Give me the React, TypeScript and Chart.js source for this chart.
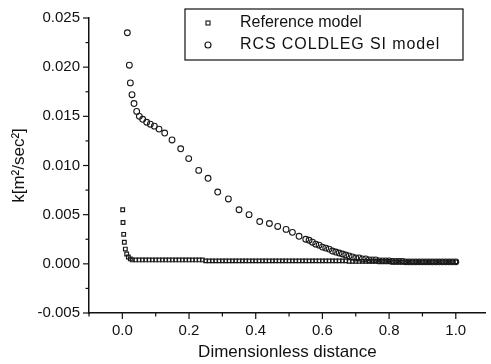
import React, { useEffect, useRef } from "react";
import { Chart, registerables } from "chart.js";
Chart.register(...registerables);

const seriesNames = ["Reference model", "RCS COLDLEG SI model"];

const refX = [
  0.001, 0.002, 0.004, 0.006, 0.009, 0.013, 0.018, 0.024,
  0.03, 0.04, 0.05, 0.06, 0.07, 0.08, 0.09, 0.10, 0.11, 0.12, 0.13, 0.14, 0.15, 0.16, 0.17, 0.18, 0.19, 0.20,
  0.21, 0.22, 0.23, 0.24, 0.25, 0.26, 0.27, 0.28, 0.29, 0.30, 0.31, 0.32, 0.33, 0.34, 0.35, 0.36, 0.37, 0.38, 0.39, 0.40,
  0.41, 0.42, 0.43, 0.44, 0.45, 0.46, 0.47, 0.48, 0.49, 0.50, 0.51, 0.52, 0.53, 0.54, 0.55, 0.56, 0.57, 0.58, 0.59, 0.60,
  0.61, 0.62, 0.63, 0.64, 0.65, 0.66, 0.67, 0.68, 0.69, 0.70, 0.71, 0.72, 0.73, 0.74, 0.75, 0.76, 0.77, 0.78, 0.79, 0.80,
  0.81, 0.82, 0.83, 0.84, 0.85, 0.86, 0.87, 0.88, 0.89, 0.90, 0.91, 0.92, 0.93, 0.94, 0.95, 0.96, 0.97, 0.98, 0.99, 1.00,
];
const refY = [
  0.0055, 0.0042, 0.0030, 0.0022, 0.0015, 0.0010, 0.0007, 0.0005,
  0.0004, 0.0004, 0.0004, 0.0004, 0.0004, 0.0004, 0.0004, 0.0004, 0.0004, 0.0004, 0.0004, 0.0004, 0.0004, 0.0004, 0.0004, 0.0004, 0.0004, 0.0004,
  0.0004, 0.0004, 0.0004, 0.0004, 0.0003, 0.0003, 0.0003, 0.0003, 0.0003, 0.0003, 0.0003, 0.0003, 0.0003, 0.0003, 0.0003, 0.0003, 0.0003, 0.0003, 0.0003, 0.0003,
  0.0003, 0.0003, 0.0003, 0.0003, 0.0003, 0.0003, 0.0003, 0.0003, 0.0003, 0.0003, 0.0003, 0.0003, 0.0003, 0.0003, 0.0003, 0.0003, 0.0003, 0.0003, 0.0003, 0.0003,
  0.0003, 0.0003, 0.0003, 0.0003, 0.0003, 0.0003, 0.0003, 0.00025, 0.00025, 0.00025, 0.00025, 0.00025, 0.00025, 0.00025, 0.00025, 0.00025, 0.00025, 0.00025, 0.00025, 0.00025,
  0.0002, 0.0002, 0.0002, 0.0002, 0.0002, 0.0002, 0.0002, 0.0002, 0.0002, 0.0002, 0.0002, 0.0002, 0.0002, 0.0002, 0.0002, 0.0002, 0.0002, 0.0002, 0.0002, 0.0002,
];

const rcsX = [
  0.015, 0.021, 0.024, 0.029, 0.035, 0.043, 0.051, 0.061, 0.073, 0.084, 0.096, 0.110, 0.127, 0.149, 0.175, 0.199,
  0.229, 0.257, 0.286, 0.318, 0.350, 0.380, 0.412, 0.441, 0.466, 0.491, 0.510, 0.530, 0.550,
  0.56, 0.57, 0.58, 0.59, 0.60, 0.61, 0.62, 0.63, 0.64, 0.65, 0.66, 0.67, 0.68, 0.69, 0.70,
  0.71, 0.72, 0.73, 0.74, 0.75, 0.76, 0.77, 0.78, 0.79, 0.80, 0.81, 0.82, 0.83, 0.84, 0.85,
  0.86, 0.87, 0.88, 0.89, 0.90, 0.91, 0.92, 0.93, 0.94, 0.95, 0.96, 0.97, 0.98, 0.99, 1.00,
];
const rcsY = [
  0.0235, 0.0202, 0.0184, 0.0172, 0.0163, 0.0155, 0.0150, 0.0147, 0.0144, 0.0142, 0.0140, 0.0137, 0.0133, 0.0126, 0.0117, 0.0107,
  0.0095, 0.0087, 0.0073, 0.0066, 0.0055, 0.0050, 0.0043, 0.0041, 0.0038, 0.0035, 0.0032, 0.0028, 0.0025,
  0.0024, 0.0022, 0.0020, 0.0019, 0.0017, 0.0016, 0.0015, 0.0013, 0.0012, 0.0011, 0.0010, 0.0009, 0.0008, 0.0007, 0.0006,
  0.0006, 0.0005, 0.0005, 0.0004, 0.0004, 0.0004, 0.0003, 0.0003, 0.0003, 0.0003, 0.00025, 0.00025, 0.00025, 0.00025, 0.0002,
  0.0002, 0.0002, 0.0002, 0.0002, 0.0002, 0.0002, 0.0002, 0.0002, 0.0002, 0.0002, 0.0002, 0.0002, 0.0002, 0.0002, 0.0002,
];

const xTicks = [0, 0.2, 0.4, 0.6, 0.8, 1.0];
const xMinorTicks = [-0.1, 0.1, 0.3, 0.5, 0.7, 0.9];
const yTicks = [-0.005, 0, 0.005, 0.01, 0.015, 0.02, 0.025];
const yMinorTicks = [-0.0025, 0.0025, 0.0075, 0.0125, 0.0175, 0.0225];

const FONT = "'Liberation Sans', Arial, sans-serif";

const overlayPlugin = {
  id: "overlay",
  afterDraw(chart: any) {
    const ctx = chart.ctx;
    const xs = chart.scales.x;
    const ys = chart.scales.y;
    const { left, bottom } = chart.chartArea;
    ctx.save();
    ctx.strokeStyle = "#111";
    ctx.lineWidth = 1.2;
    const line = (x1: number, y1: number, x2: number, y2: number) => {
      ctx.beginPath();
      ctx.moveTo(x1, y1);
      ctx.lineTo(x2, y2);
      ctx.stroke();
    };
    yTicks.forEach((v) => {
      const p = ys.getPixelForValue(v);
      line(left - 6, p, left, p);
    });
    yMinorTicks.forEach((v) => {
      const p = ys.getPixelForValue(v);
      line(left - 3.5, p, left, p);
    });
    xTicks.forEach((v) => {
      const p = xs.getPixelForValue(v);
      line(p, bottom, p, bottom + 6);
    });
    xMinorTicks.forEach((v) => {
      const p = xs.getPixelForValue(v);
      line(p, bottom, p, bottom + 3.5);
    });

    // legend box
    const bx = 185, by = 9, bw = 278, bh = 51;
    ctx.lineWidth = 1.2;
    ctx.strokeStyle = "#111";
    ctx.strokeRect(bx, by, bw, bh);
    ctx.fillStyle = "#111";
    ctx.font = `16px ${FONT}`;
    ctx.textBaseline = "middle";
    ctx.textAlign = "left";
    const rows = [by + 14, by + 36];
    ctx.lineWidth = 1.1;
    ctx.strokeRect(206, rows[0] - 2, 4, 4);
    ctx.beginPath();
    ctx.arc(208, rows[1], 3, 0, Math.PI * 2);
    ctx.stroke();
    ctx.fillText(seriesNames[0], 240, rows[0]);
    try {
      (ctx as any).letterSpacing = "0.9px";
    } catch (e) {}
    ctx.fillText(seriesNames[1], 240, rows[1]);
    try {
      (ctx as any).letterSpacing = "0px";
    } catch (e) {}
    ctx.restore();
  },
};

export default function App() {
  const ref = useRef<HTMLCanvasElement | null>(null);
  useEffect(() => {
    if (!ref.current) return;
    const chart = new Chart(ref.current, {
      type: "scatter",
      data: {
        datasets: [
          {
            label: seriesNames[0],
            data: refX.map((x, i) => ({ x, y: refY[i] })),
            pointStyle: "rect",
            pointRadius: 2.6,
            borderColor: "#1a1a1a",
            backgroundColor: "rgba(255,255,255,0)",
            borderWidth: 1.2,
            showLine: false,
          },
          {
            label: seriesNames[1],
            data: rcsX.map((x, i) => ({ x, y: rcsY[i] })),
            pointStyle: "circle",
            pointRadius: 2.9,
            borderColor: "#1a1a1a",
            backgroundColor: "rgba(255,255,255,0)",
            borderWidth: 1.1,
            showLine: false,
          },
        ],
      },
      options: {
        animation: false,
        responsive: true,
        maintainAspectRatio: false,
        layout: { padding: { top: 13, right: 0, left: 0, bottom: 0 } },
        plugins: { legend: { display: false }, tooltip: { enabled: false } },
        scales: {
          x: {
            type: "linear",
            min: -0.1,
            max: 1.09,
            grid: { display: false, drawTicks: false },
            border: { display: true, color: "#111", width: 1.5 },
            afterBuildTicks: (s: any) => {
              s.ticks = xTicks.map((v) => ({ value: v }));
            },
            afterFit: (s: any) => {
              s.height = 51;
            },
            ticks: {
              padding: 9,
              color: "#111",
              font: { family: FONT, size: 15 },
              callback: (v: any) => Number(v).toFixed(1),
            },
            title: {
              display: true,
              text: "Dimensionless distance",
              color: "#111",
              font: { family: FONT, size: 17 },
              padding: { top: 0, bottom: 1 },
            },
          },
          y: {
            type: "linear",
            min: -0.005,
            max: 0.025,
            grid: { display: false, drawTicks: false },
            border: { display: true, color: "#111", width: 1.5 },
            afterBuildTicks: (s: any) => {
              s.ticks = yTicks.map((v) => ({ value: v }));
            },
            afterFit: (s: any) => {
              s.width = 89;
            },
            ticks: {
              padding: 9,
              color: "#111",
              font: { family: FONT, size: 15 },
              callback: (v: any) => Number(v).toFixed(3),
            },
            title: {
              display: true,
              text: "k[m²/sec²]",
              color: "#111",
              font: { family: FONT, size: 17 },
              padding: { top: 9, bottom: 0 },
            },
          },
        },
      },
      plugins: [overlayPlugin],
    });
    return () => chart.destroy();
  }, []);
  return (
    <div style={{ position: "fixed", left: 0, top: 0, width: 491, height: 364, background: "#fff" }}>
      <canvas ref={ref} />
    </div>
  );
}
